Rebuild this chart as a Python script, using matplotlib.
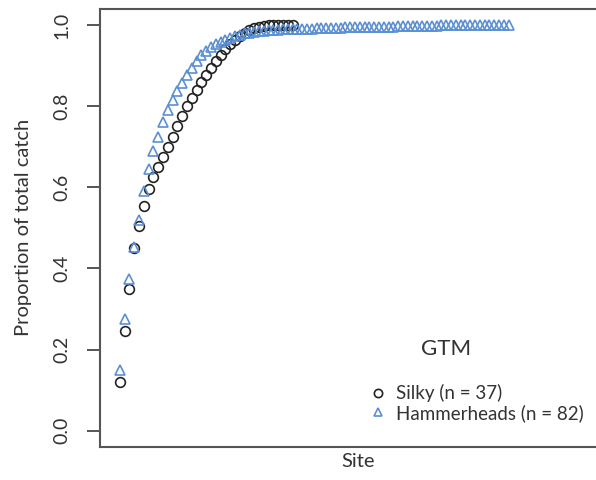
import matplotlib
matplotlib.use('Agg')
import matplotlib.pyplot as plt

# cumulative proportion of catch by site (sorted)
silky = [0.12, 0.245, 0.35, 0.45, 0.505, 0.555, 0.595, 0.625, 0.65, 0.675,
         0.70, 0.725, 0.75, 0.775, 0.80, 0.82, 0.84, 0.86, 0.877, 0.894,
         0.91, 0.925, 0.94, 0.952, 0.963, 0.972, 0.98, 0.987, 0.992, 0.996,
         0.998, 1.0, 1.0, 1.0, 1.0, 1.0, 1.0]
hammer = [0.15, 0.275, 0.375, 0.452, 0.52, 0.59, 0.645, 0.69, 0.725, 0.76,
          0.79, 0.815, 0.837, 0.857, 0.877, 0.895, 0.91, 0.925, 0.936, 0.945,
          0.952, 0.958, 0.963, 0.968, 0.972, 0.976, 0.979, 0.981, 0.983, 0.984,
          0.986, 0.987, 0.988, 0.988, 0.989, 0.989, 0.990, 0.990, 0.991, 0.991,
          0.991, 0.992, 0.992, 0.992, 0.993, 0.993, 0.993, 0.994, 0.994, 0.994,
          0.995, 0.995, 0.995, 0.995, 0.996, 0.996, 0.996, 0.996, 0.997, 0.997,
          0.997, 0.997, 0.998, 0.998, 0.998, 0.998, 0.998, 0.999, 0.999, 0.999,
          0.999, 0.999, 0.999, 1.0, 1.0, 1.0, 1.0, 1.0, 1.0, 1.0,
          1.0, 1.0]
site_s = list(range(1, len(silky) + 1))
site_h = list(range(1, len(hammer) + 1))
yticks = [0.0, 0.2, 0.4, 0.6, 0.8, 1.0]

plt.rcParams['font.family'] = ['Lato', 'DejaVu Sans']
txt = '#333333'

fig = plt.figure(figsize=(5.96, 4.8), dpi=100)
ax = fig.add_axes([0.1678, 0.0688, 0.8654, 0.9131])

ax.plot(site_s, silky, ls='none', marker='o', ms=7, mfc='none', mec='#222222',
        mew=1.2, label='Silky (n = 37)')
ax.plot(site_h, hammer, ls='none', marker='^', ms=7.5, mfc='none', mec='#5b8fd4',
        mew=1.2, label='Hammerheads (n = 82)')

ax.set_xlim(-3.1, 104.3)
ax.set_ylim(-0.04, 1.04)
ax.set_xticks([])
ax.set_yticks(yticks)
ax.set_yticklabels(['%.1f' % v for v in yticks], rotation=90, va='center',
                   fontsize=14, color=txt)
ax.tick_params(axis='y', length=9.5, width=1.4, color='#555555', pad=12)
for s in ax.spines.values():
    s.set_color('#555555')
    s.set_linewidth(1.5)

ax.set_ylabel('Proportion of total catch', fontsize=14.5, color=txt, labelpad=15)
ax.set_xlabel('Site', fontsize=14.5, color=txt, labelpad=4)

fig.text(446 / 596, 1 - 349 / 480, 'GTM', ha='center', va='center',
         fontsize=16, color=txt)
leg = fig.legend(frameon=False, loc='upper left', bbox_to_anchor=(0.6215, 0.200),
                 fontsize=13.5, handlelength=0.8, handletextpad=0.55,
                 labelspacing=0.1, borderpad=0, borderaxespad=0, markerscale=0.85)
for t in leg.get_texts():
    t.set_color(txt)

fig.savefig('out.png', dpi=100)
